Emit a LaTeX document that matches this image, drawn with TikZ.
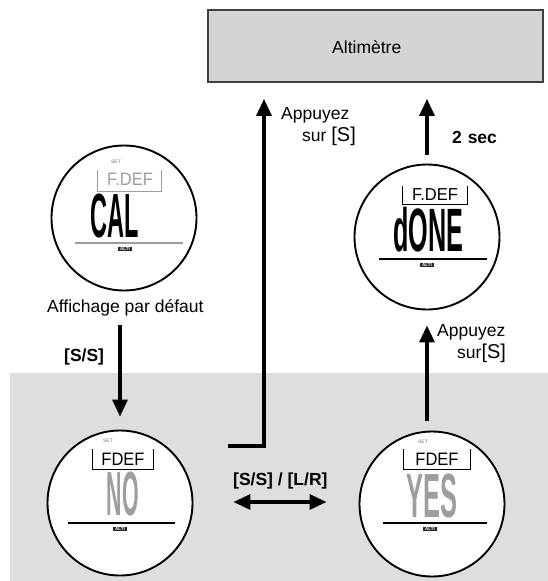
\documentclass[tikz,border=0pt]{standalone}
\usepackage{fontspec}
\setmainfont{Liberation Sans}
\usepackage{graphicx}
\usetikzlibrary{arrows.meta,calc}
\definecolor{band}{gray}{0.87}
\definecolor{boxfill}{gray}{0.83}
\definecolor{lcdgray}{gray}{0.62}
\begin{document}
\begin{tikzpicture}[x=1pt,y=-1pt,
  every node/.style={inner sep=0pt},
  arr/.style={line width=3.2pt, -{Triangle[width=15pt,length=17pt]}},
  darr/.style={line width=3.2pt, {Triangle[width=15pt,length=17pt]}-{Triangle[width=15pt,length=17pt]}},
  lcd/.style={circle, draw, line width=1.9pt, fill=white, minimum size=145pt},
  lbl/.style={anchor=base west, font=\fontsize{17.5}{22}\selectfont},
  blbl/.style={anchor=base west, font=\fontsize{17.5}{22}\selectfont\bfseries},
  settxt/.style={font=\fontsize{5}{5}\selectfont\bfseries, text=lcdgray},
  alti/.style={fill=black!85, text=white, font=\fontsize{4.5}{5}\selectfont\bfseries, inner xsep=2pt, inner ysep=0.8pt},
  frametxt/.style={font=\fontsize{15}{15}\selectfont},
  frameline/.style={line width=1pt},
  lcdline/.style={line width=1.4pt},
]
\useasboundingbox (0,0) rectangle (548,581);
\fill[band] (10,373) rectangle (548,581);

% top box
\node[draw=black!75, line width=1.8pt, fill=boxfill, minimum width=335pt, minimum height=72pt] (alt) at (375.5,46) {};
\node[lbl] (alttxt) at (332,53) {Altimètre};

% circles
\node[lcd] (cal) at (124,218) {};
\node[lcd] (done) at (427,237) {};
\node[lcd] (no) at (120,503) {};
\node[lcd] (yes) at (432,504) {};

% CAL face
\node[settxt] (cal-set) at ([shift={(-8,-56)}]cal.center) {SET};
\draw[frameline, lcdgray] ([shift={(-27,-48)}]cal.center) -- ([shift={(-27,-27)}]cal.center) -- ([shift={(37,-27)}]cal.center) -- ([shift={(37,-48)}]cal.center);
\node[frametxt, text=lcdgray] (cal-ft) at ([shift={(6,-39)}]cal.center) {\scalebox{1.1}[1.2]{F.DEF}};
\node (cal-big) at ([shift={(-9,-2)}]cal.center) {\scalebox{0.98}[2.6]{\fontsize{24}{24}\selectfont\bfseries CAL}};
\draw[lcdline, lcdgray] ([shift={(-49,25)}]cal.center) -- ([shift={(59,25)}]cal.center);
\node[alti] (cal-alti) at ([shift={(1,31)}]cal.center) {ALTI};

% dONE face
\draw[frameline] ([shift={(-25,-51)}]done.center) -- ([shift={(-25,-33)}]done.center) -- ([shift={(40,-33)}]done.center) -- ([shift={(40,-51)}]done.center);
\node[frametxt] (done-ft) at ([shift={(8,-42)}]done.center) {\scalebox{1.1}[1.15]{F.DEF}};
\node (done-big) at ([shift={(1,-7)}]done.center) {\scalebox{1.05}[2.55]{\fontsize{24}{24}\selectfont\bfseries dONE}};
\draw[lcdline] ([shift={(-48,22)}]done.center) -- ([shift={(60,22)}]done.center);
\node[alti] (done-alti) at ([shift={(0,28)}]done.center) {ALTI};

% NO face
\node[settxt] (no-set) at ([shift={(-12,-62)}]no.center) {SET};
\draw[frameline] ([shift={(-28,-54)}]no.center) -- ([shift={(-28,-34)}]no.center) -- ([shift={(33,-34)}]no.center) -- ([shift={(33,-54)}]no.center);
\node[frametxt] (no-ft) at ([shift={(3,-44)}]no.center) {\scalebox{1.1}[1.2]{FDEF}};
\node[text=lcdgray] (no-big) at ([shift={(3,-9)}]no.center) {\scalebox{0.89}[2.6]{\fontsize{24}{24}\selectfont\bfseries NO}};
\draw[lcdline] ([shift={(-52,20)}]no.center) -- ([shift={(55,20)}]no.center);
\node[alti] (no-alti) at ([shift={(0,26)}]no.center) {ALTI};

% YES face
\node[settxt] (yes-set) at ([shift={(-9,-62)}]yes.center) {SET};
\draw[frameline] ([shift={(-29,-55)}]yes.center) -- ([shift={(-29,-35)}]yes.center) -- ([shift={(38,-35)}]yes.center) -- ([shift={(38,-55)}]yes.center);
\node[frametxt] (yes-ft) at ([shift={(5,-45)}]yes.center) {\scalebox{1.1}[1.2]{FDEF}};
\node[text=lcdgray] (yes-big) at ([shift={(0,-8)}]yes.center) {\scalebox{1.06}[2.6]{\fontsize{24}{24}\selectfont\bfseries YES}};
\draw[lcdline] ([shift={(-49,19)}]yes.center) -- ([shift={(55,19)}]yes.center);
\node[alti] (yes-alti) at ([shift={(-2,25)}]yes.center) {ALTI};

% labels
\node[lbl] (aff) at (47,312) {Affichage par défaut};
\node[blbl] (ss) at (64,361) {[S/S]};
\node[blbl] (sslr) at (233,485) {[S/S] / [L/R]};
\node[blbl] (twosec) at (452,143) {2\,\,sec};
\node[lbl] (app1a) at (281,119) {Appuyez};
\node[lbl] (app1b) at (302,141) {sur {\fontsize{20}{22}\selectfont[S]}};
\node[lbl] (app2a) at (437,336) {Appuyez};
\node[lbl] (app2b) at (457,358) {sur{\fontsize{20}{22}\selectfont[S]}};

% connectors
\coordinate (nofree) at (228,446);
\coordinate (upx) at (264,0);
\draw[arr] ([yshift=-13pt]aff.base -| no.north) -- ([yshift=13pt]no.north);
\draw[arr] (nofree) -| ([yshift=-16pt]alt.south -| upx);
\draw[arr] ([yshift=9pt]done.north) -- ([yshift=-16pt]alt.south -| done.north);
\draw[arr] ([xshift=-5pt,yshift=10pt]yes.north) -- ([yshift=-15pt]done.south);
\draw[darr] ([xshift=40pt,yshift=1pt]no.east) -- ([xshift=-32pt,yshift=2pt]yes.west);
\end{tikzpicture}
\end{document}
